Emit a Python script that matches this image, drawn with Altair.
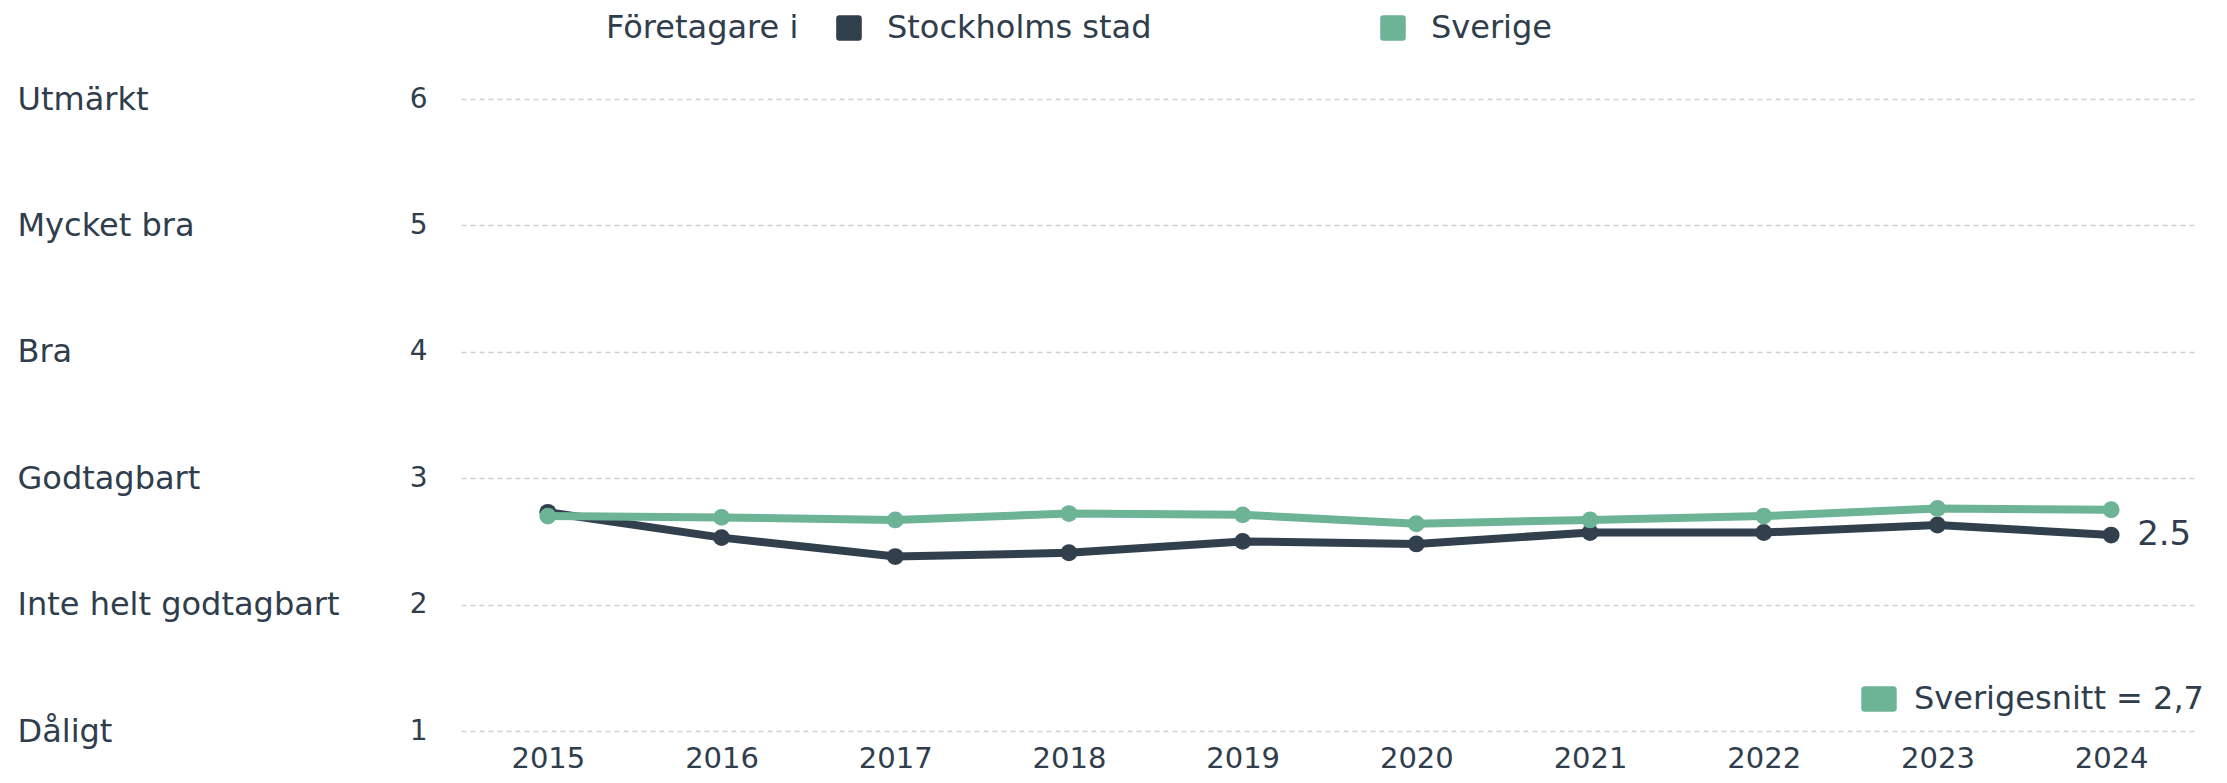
import altair as alt
import pandas as pd

years = [2015, 2016, 2017, 2018, 2019, 2020, 2021, 2022, 2023, 2024]
stockholm = [2.73, 2.53, 2.38, 2.41, 2.50, 2.48, 2.57, 2.57, 2.63, 2.55]
sverige = [2.70, 2.69, 2.67, 2.72, 2.71, 2.64, 2.67, 2.70, 2.76, 2.75]
series_names = ["Stockholms stad", "Sverige"]
series_colors = ["#323f4d", "#6db396"]
grade_values = [1, 2, 3, 4, 5, 6]
grade_labels = ["Dåligt", "Inte helt godtagbart", "Godtagbart", "Bra", "Mycket bra", "Utmärkt"]
legend_title = "Företagare i"
snitt_label = "Sverigesnitt = 2,7"
end_label = "2.5"

TEXT = "#2f3d4c"
FONT = "DejaVu Sans"

rows = []
for y, a, b in zip(years, stockholm, sverige):
    rows.append({"year": y, "value": a, "series": series_names[0]})
    rows.append({"year": y, "value": b, "series": series_names[1]})
df = pd.DataFrame(rows)
end_df = pd.DataFrame({"year": [years[-1]], "value": [stockholm[-1]], "label": [end_label]})
snitt_df = pd.DataFrame({"year": [years[-1]], "value": [2.7], "snitt": [snitt_label]})

rounded_sq = ("M-0.75,-1 L0.75,-1 Q1,-1 1,-0.75 L1,0.75 Q1,1 0.75,1 L-0.75,1 "
              "Q-1,1 -1,0.75 L-1,-0.75 Q-1,-1 -0.75,-1 Z")
rounded_rect = ("M-0.8,-0.72 L0.8,-0.72 Q1,-0.72 1,-0.52 L1,0.52 Q1,0.72 0.8,0.72 "
                "L-0.8,0.72 Q-1,0.72 -1,0.52 L-1,-0.52 Q-1,-0.72 -0.8,-0.72 Z")

xenc = alt.X("year:O", scale=alt.Scale(type="point", padding=0.5),
             axis=alt.Axis(title=None, labelAngle=0, labelFontSize=29, labelColor=TEXT,
                           labelFont=FONT, domain=False, ticks=False, labelPadding=13))
yscale = alt.Scale(domain=[1, 6], nice=False, zero=False)

num_axis = alt.Axis(title=None, orient="left", values=grade_values, grid=True,
                    gridDash=[5, 4], gridColor="#cfcfcf", gridWidth=1.3,
                    domain=False, ticks=False, labelPadding=34, labelFontSize=28,
                    labelColor=TEXT, labelFont=FONT, format="d")
lab_list = "[" + ",".join("'" + s + "'" for s in grade_labels) + "]"
cat_axis = alt.Axis(title=None, orient="left", values=grade_values, grid=False,
                    domain=False, ticks=False, labelPadding=444, labelAlign="left",
                    labelFontSize=32, labelColor=TEXT, labelFont=FONT, labelLimit=600,
                    labelExpr=lab_list + "[datum.value - 1]")


def series_layers(name, col, axis):
    base = alt.Chart(df).transform_filter(alt.datum.series == name)
    line = base.mark_line(strokeWidth=8, color=col).encode(
        x=xenc, y=alt.Y("value:Q", scale=yscale, axis=axis))
    pts = base.mark_circle(size=285, opacity=1, color=col).encode(
        x=xenc, y=alt.Y("value:Q", scale=yscale, axis=None))
    return line, pts


l1, p1 = series_layers(series_names[0], series_colors[0], num_axis)
l2, p2 = series_layers(series_names[1], series_colors[1], cat_axis)

end_text = alt.Chart(end_df).mark_text(
    align="left", baseline="middle", dx=26, fontSize=34, font=FONT, color=TEXT).encode(
    x=xenc, y=alt.Y("value:Q", scale=yscale, axis=None), text="label:N")

top_legend = alt.Chart(df).transform_filter("false").mark_point(filled=True, opacity=1).encode(
    x=xenc, y=alt.Y("value:Q", scale=yscale, axis=None),
    color=alt.Color("series:N", scale=alt.Scale(domain=series_names, range=series_colors),
                    legend=alt.Legend(title=legend_title, orient="none", legendX=145, legendY=-87,
                                      direction="horizontal", titleOrient="left",
                                      titleFontSize=32, titleFontWeight="normal", titleColor=TEXT,
                                      titleFont=FONT, titlePadding=34, titleLimit=600,
                                      labelFontSize=32, labelColor=TEXT, labelFont=FONT,
                                      labelLimit=600, symbolType=rounded_sq, symbolSize=655,
                                      symbolStrokeWidth=0, symbolOpacity=1,
                                      labelOffset=22, columnPadding=225)))

bottom_legend = alt.Chart(snitt_df).transform_filter("false").mark_point(
    filled=True, opacity=1, color=series_colors[1]).encode(
    x=xenc, y=alt.Y("value:Q", scale=yscale, axis=None),
    shape=alt.Shape("snitt:N", scale=alt.Scale(domain=[snitt_label], range=[rounded_rect]),
                    legend=alt.Legend(title=None, orient="none", legendX=1400, legendY=582,
                                      labelFontSize=32, labelColor=TEXT, labelFont=FONT,
                                      labelLimit=600, symbolSize=1260, symbolStrokeWidth=0,
                                      symbolFillColor=series_colors[1], symbolOpacity=1,
                                      labelOffset=17)))

chart = alt.layer(l1, p1, l2, p2, end_text, top_legend, bottom_legend).resolve_axis(
    y="independent"
).resolve_scale(y="shared").properties(
    width=1737, height=632,
    autosize=alt.AutoSizeParams(type="none"),
    padding={"left": 453, "top": 91, "right": 20, "bottom": 44},
).configure(font=FONT).configure_view(stroke=None)

chart.save("out.html", embed_options={"renderer": "svg", "actions": False})
